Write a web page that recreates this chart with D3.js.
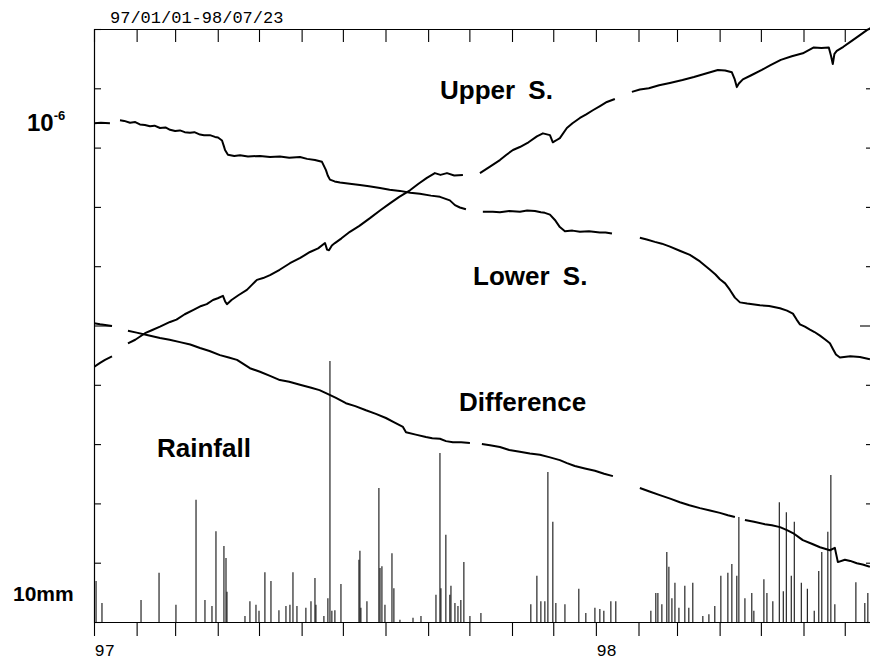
<!DOCTYPE html>
<html><head><meta charset="utf-8">
<script src="https://cdn.jsdelivr.net/npm/d3@7"></script>
<style>
html,body{margin:0;padding:0;background:#fff;}
svg{display:block;}
.big{font-family:"Liberation Sans",Arial,sans-serif;font-weight:bold;fill:#000;}
.mono{font-family:"Liberation Mono","DejaVu Sans Mono",monospace;fill:#000;}
</style></head>
<body>
<svg id="chart" width="870" height="662"></svg>
<script>
// ---- data (days since 1997-01-01, value in tick units: 10 units per division) ----
const startDate = "1997-01-01";
const endDate = "1998-07-23";
const titleText = "97/01/01-98/07/23";
const yearLabels = ["97", "98"];
const seriesNames = ["Upper S.", "Lower S.", "Difference", "Rainfall"];

const upperS = [
[0,43.0],[4.4,43.7],[8,44.2],[13.1,44.8],[13.5,null],
[24.7,47.0],[30,47.6],[37.1,48.7],[42,49.2],[48,49.8],[55.3,50.6],[60,51.0],[66,51.9],[72,52.6],[78,53.3],[82,53.6],[86.5,54.3],[90,54.6],[93.8,55.0],[95.5,54.0],[96.7,53.6],[100,54.3],[105,55.1],[111.2,56.0],[115,56.9],[118.5,57.7],[123,58.0],[128,58.5],[135,59.4],[142.5,60.5],[150,61.4],[157.1,62.4],[163,63.0],[168,63.9],[169.5,62.8],[170.9,62.7],[173,63.5],[175.2,63.9],[180,64.7],[186.1,65.8],[193,66.8],[200.7,68.1],[208,69.4],[215.2,70.6],[222,71.7],[229.8,72.8],[236,73.9],[242.1,74.9],[247.9,75.7],[252,75.4],[256.7,75.7],[262,75.3],[268.3,75.4],[269,null],
[280.7,75.7],[288,76.8],[295.2,77.9],[300,78.8],[304.7,79.6],[309.7,80.1],[316,80.9],[322.1,81.9],[326.5,82.4],[331.6,82.1],[333.7,80.9],[336,81.2],[338.8,81.6],[343.9,83.3],[348,84.1],[353.4,85.0],[358,85.6],[362.8,86.3],[368,87.0],[373,87.7],[378.8,88.2],[379,null],
[391.2,89.4],[397,89.8],[403.5,90.0],[411,90.5],[418.8,90.9],[428,91.4],[436.3,91.9],[445,92.5],[453.7,93.1],[459,93.0],[463.9,92.7],[466,91.5],[467.5,90.2],[469,90.8],[471.9,91.5],[478,92.2],[485.7,93.1],[492,93.9],[499.5,94.8],[507.5,95.4],[515.5,95.9],[523.5,96.9],[529,96.8],[534.4,96.9],[536,95.5],[537.3,94.1],[538.5,95.8],[540.2,96.3],[545,97.0],[551.1,98.0],[556,98.8],[562.1,99.8],[568,100.6]
];

const lowerS = [
[0,84.1],[5,84.2],[11.6,84.1],[12,null],
[18.9,84.6],[22,84.5],[26.2,84.2],[30,84.3],[33.4,83.9],[37,83.8],[40.7,83.6],[44,83.7],[48,83.3],[52,83.4],[55.3,83.0],[59,82.8],[62.5,82.9],[66,82.6],[69.8,82.5],[73,82.6],[77.1,82.2],[80,82.1],[84.3,82.1],[88,81.8],[90.2,81.7],[93.1,81.2],[94.5,80.2],[95.3,79.6],[97.4,78.8],[102,78.6],[106.2,78.7],[112,78.5],[120.7,78.6],[128,78.4],[135.2,78.5],[142,78.3],[149.8,78.4],[155,78.1],[160.7,77.9],[165.8,77.6],[168.7,76.2],[170,75.3],[171.6,74.6],[175,74.3],[178.9,74.1],[186,73.9],[193.4,73.7],[200,73.5],[208,73.2],[215,72.9],[222.5,72.7],[230,72.4],[237,72.2],[245,71.9],[251.6,71.7],[258.8,71.1],[262.5,70.3],[266.1,69.9],[270.5,69.6],[271,null],
[282.8,69.2],[290,69.2],[295.2,69.1],[302,69.3],[309.8,69.2],[315,69.4],[320.7,69.3],[325,69.1],[327.9,69.0],[331.6,68.7],[335.2,67.8],[338.8,66.6],[342.5,65.9],[348,66.0],[353.4,65.8],[360,65.9],[367.9,65.7],[372,65.7],[376.7,65.5],[377,null],
[397,64.8],[402,64.5],[407.9,64.1],[413,63.8],[418.9,63.3],[426,62.6],[433.4,61.9],[440.7,60.8],[448,59.4],[452,58.6],[455.2,57.8],[459,57.1],[462.5,56.0],[466.1,54.7],[469.8,53.9],[475,53.7],[484.3,53.4],[491,53.3],[498.9,52.9],[504,52.5],[508.3,52.0],[511,51.0],[513.4,50.2],[517,49.8],[520.7,49.3],[524,48.9],[528,48.3],[532,47.6],[535.2,47.0],[537.5,46.0],[539.6,45.1],[542.5,44.6],[550,44.8],[557,44.7],[564.3,44.3]
];

const difference = [
[0,50.4],[4.4,50.2],[13.1,49.9],[13.5,null],
[24.7,49.1],[31,48.8],[38.5,48.4],[48,47.9],[55,47.6],[62.5,47.2],[70,46.8],[77.1,46.2],[84,45.7],[91.6,45.0],[98,44.6],[104,44.2],[108,43.6],[113.4,42.8],[120.7,42.2],[128,41.5],[135.2,40.8],[142,40.5],[149.8,40.0],[158,39.5],[164,39.1],[168.7,38.6],[176,37.8],[183.2,36.9],[190,36.4],[197.8,35.7],[205,35.1],[212.3,34.4],[218,33.7],[224.7,32.9],[226.9,32.0],[234,31.6],[241.4,31.2],[246,31.0],[251.6,30.9],[256,30.5],[261,30.3],[267,30.3],[273.4,30.2],[274,null],
[282.1,30.0],[288,29.8],[295.2,29.5],[302,29.0],[309.7,28.7],[317,28.4],[324.3,28.2],[331,27.8],[338.8,27.3],[344,26.8],[349.7,26.3],[357,25.9],[364.3,25.5],[371,25.0],[377.4,24.6],[378,null],
[397,22.6],[404,22.0],[411.5,21.4],[419,20.8],[426.1,20.2],[433,19.7],[440.7,19.2],[448,18.8],[455.2,18.4],[461,18.0],[466.1,17.7],[467,null],
[473.4,17.2],[480,16.9],[487.9,16.5],[493,16.3],[498.9,16.0],[504,15.5],[508.3,15.0],[512,14.4],[515.5,13.8],[522,13.2],[528,12.6],[535.2,12.1],[538.8,12.5],[541,10.1],[546.1,10.5],[550,10.3],[554.8,9.9],[559,9.7],[564.3,9.3]
];

// rainfall: [day, mm]
const rainfall = [
[1.5,6.9],[5.8,3.2],[34.2,3.7],[47.3,8.3],[59.6,2.9],[74.2,20.6],[80.7,3.7],[85.8,2.7],[88.7,15.3],[94.5,12.8],[96.0,10.8],[96.7,5.1],
[109.8,1.0],[113.4,3.5],[117.8,2.9],[120.0,1.9],[124.3,8.4],[128.7,6.9],[134.5,2.0],[139.6,2.7],[142.5,2.9],[144.7,8.4],[147.6,2.7],
[154.1,2.4],[157.8,3.5],[160.7,7.4],[161.4,2.9],[167.2,1.0],[170.1,4.0],[171.6,44.0],[173.0,1.9],[175.2,2.0],[179.6,6.4],
[192.7,10.5],[193.4,12.0],[194.1,2.4],[198.5,3.5],[207.2,22.6],[208.0,9.1],[209.4,9.4],[211.6,2.9],[216.7,11.6],[218.1,5.7],
[222.5,0.4],[232.0,0.7],[237.8,1.0],[248.7,4.6],[251.6,28.5],[252.3,5.7],[255.9,14.7],[258.8,4.6],[259.6,6.1],[262.5,3.2],[264.7,2.7],[266.8,3.7],[269.0,10.1],[273.4,1.0],
[281.4,1.5],[317.7,3.0],[322.1,7.8],[325.0,3.5],[327.9,3.5],[330.1,25.3],[333.7,16.9],[335.9,3.2],[342.5,3.0],[352.6,5.6],[357.7,1.5],
[364.3,2.4],[367.9,2.2],[370.8,1.9],[375.9,3.5],[379.5,3.5],
[405.0,1.9],[408.6,4.9],[410.1,4.9],[413.0,3.0],[416.6,11.8],[418.1,9.3],[420.3,4.0],[422.5,6.6],[425.4,2.4],[429.7,6.1],[432.6,2.4],[435.5,6.6],
[442.8,1.0],[447.2,1.3],[451.5,2.7],[455.9,7.8],[461.0,8.3],[463.9,9.8],[467.5,7.8],[469.0,17.7],[473.4,4.0],[478.4,4.9],[479.9,1.9],
[487.2,7.2],[489.4,4.9],[493.7,3.5],[498.4,20.2],[501.3,5.2],[503.5,18.5],[507.1,7.8],[509.3,16.9],[514.4,6.6],[518.8,5.6],[523.8,1.9],
[527.1,8.6],[529.3,11.8],[533.7,15.2],[535.9,24.8],[538.8,3.0],[554.1,6.7],[560.6,3.2],[562.8,4.9]
];
// periods with no rain record (drawn as thick base line)
const rainGaps = [[13.8,26.2],[273,315.6],[381.7,391.2]];
const yTicks = [0,10,20,30,40,50,60,70,80,90,100];

// ---- chart ----
const svg = d3.select("#chart");
svg.append("rect").attr("width",870).attr("height",662).attr("fill","#fff");
const t0 = new Date(startDate + "T00:00:00Z");
const t1 = new Date(endDate + "T00:00:00Z");
const dayToDate = d => new Date(t0.getTime() + d*864e5);
const x = d3.scaleUtc().domain([t0, t1]).range([94, 875]);
const y = d3.scaleLinear().domain([0, 100]).range([622, 29]);

svg.append("defs").append("clipPath").attr("id","clip")
  .append("rect").attr("x",94).attr("y",27).attr("width",781).attr("height",596);

// top axis
const topAx = svg.append("g").attr("transform","translate(0,"+y(100)+")")
  .call(d3.axisBottom(x).ticks(d3.utcMonth.every(1)).tickSize(13).tickSizeOuter(0).tickFormat(""));
// bottom axis
const botAx = svg.append("g").attr("transform","translate(0,"+y(0)+")")
  .call(d3.axisBottom(x).ticks(d3.utcMonth.every(1)).tickSize(14).tickSizeOuter(0)
    .tickFormat(d => d.getUTCMonth()===0 ? yearLabels[d.getUTCFullYear()-1997] : ""));
botAx.selectAll("text").attr("class","mono").attr("text-anchor","start")
  .attr("font-size",17).attr("dy",0).attr("y",34).attr("x",0);
// left axis
const leftAx = svg.append("g").attr("transform","translate("+x(t0)+",0)")
  .call(d3.axisRight(y).tickValues(yTicks).tickSize(7).tickSizeOuter(0).tickFormat(""));
leftAx.selectAll(".tick line").filter(d => d===50).attr("x2",18);
// right axis
const rightAx = svg.append("g").attr("transform","translate("+x(t1)+",0)")
  .call(d3.axisLeft(y).tickValues(yTicks).tickSize(9).tickSizeOuter(0).tickFormat(""));
rightAx.selectAll(".tick line").filter(d => d===50).attr("x2",-15);
svg.selectAll(".domain").attr("stroke","#000").attr("stroke-width",1.2);
svg.selectAll(".tick line").attr("stroke","#000").attr("stroke-width",1.1);
svg.selectAll(".tick text").attr("fill","#000");

// rainfall
const plot = svg.append("g").attr("clip-path","url(#clip)");
plot.selectAll("line.rain").data(rainfall).join("line").attr("class","rain")
  .attr("x1",d=>x(dayToDate(d[0]))).attr("x2",d=>x(dayToDate(d[0])))
  .attr("y1",y(0)).attr("y2",d=>y(d[1]))
  .attr("stroke","#111").attr("stroke-width",1.1);
plot.selectAll("line.gap").data(rainGaps).join("line").attr("class","gap")
  .attr("x1",d=>x(dayToDate(d[0]))).attr("x2",d=>x(dayToDate(d[1])))
  .attr("y1",y(0)+1.5).attr("y2",y(0)+1.5).attr("stroke","#000").attr("stroke-width",3);

// strain curves
const line = d3.line().defined(d => d[1]!==null)
  .x(d => x(dayToDate(d[0]))).y(d => y(d[1]));
[upperS, lowerS, difference].forEach(s => {
  plot.append("path").datum(s).attr("d", line)
    .attr("fill","none").attr("stroke","#000").attr("stroke-width",2).attr("stroke-linejoin","round");
});

// texts
svg.append("text").attr("class","mono").attr("x",110).attr("y",23).attr("font-size",17).text(titleText);
const lab = [[seriesNames[0],440,99],[seriesNames[1],473,285],[seriesNames[2],459,411],[seriesNames[3],157,457]];
lab.forEach(l => svg.append("text").attr("class","big").attr("x",l[1]).attr("y",l[2])
  .attr("font-size",26).attr("word-spacing", l[0]==="Upper S."||l[0]==="Lower S." ? 6 : 0).text(l[0]));
const exp = svg.append("text").attr("class","big").attr("x",27).attr("y",131).attr("font-size",24);
exp.append("tspan").text("10");
exp.append("tspan").attr("font-size",13).attr("dy",-11).text("-6");
svg.append("text").attr("class","big").attr("x",13).attr("y",601).attr("font-size",21).attr("font-weight","normal")
  .style("font-weight","600").text("10mm");
</script>
</body></html>
